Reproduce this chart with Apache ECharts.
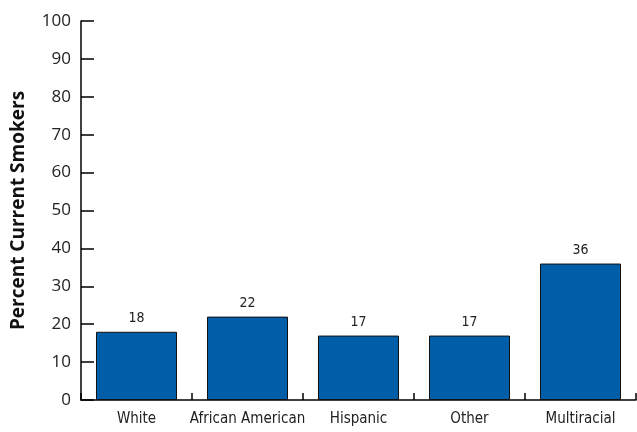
<!DOCTYPE html>
<html><head><meta charset="utf-8">
<script src="https://cdn.jsdelivr.net/npm/echarts@6/dist/echarts.min.js"></script>
<style>html,body{margin:0;padding:0;background:#fff}#c{width:637px;height:432px}</style>
</head><body><div id="c"></div>
<script>
const categories = ['White', 'African American', 'Hispanic', 'Other', 'Multiracial'];
const values = [18, 22, 17, 17, 36];
const yTicks = [0, 10, 20, 30, 40, 50, 60, 70, 80, 90, 100];
const yTitle = 'Percent Current Smokers';

const condensed = '"Liberation Sans Narrow", "DejaVu Sans Condensed", "Roboto Condensed", sans-serif';
const chart = echarts.init(document.getElementById('c'), null, {renderer: 'canvas'});
chart.setOption({
  animation: false,
  backgroundColor: '#fff',
  grid: {left: 81, right: 1, top: 21, bottom: 32, containLabel: false, outerBoundsMode: 'none'},
  xAxis: {
    type: 'category',
    data: categories,
    axisLine: {lineStyle: {color: '#000', width: 1.5}},
    axisTick: {show: true, inside: true, length: 7, alignWithLabel: false, lineStyle: {color: '#000', width: 1.5},
      interval: 0},
    axisLabel: {interval: 0, color: '#222', fontFamily: condensed, fontSize: 15, margin: 12},
    splitLine: {show: false}
  },
  yAxis: {
    type: 'value',
    min: yTicks[0], max: yTicks[yTicks.length - 1], interval: 10,
    name: yTitle,
    nameLocation: 'middle',
    nameGap: 53,
    nameRotate: 90,
    nameTextStyle: {fontFamily: 'Open Sans', fontWeight: 'bold', fontSize: 19, color: '#111'},
    axisLine: {show: true, lineStyle: {color: '#000', width: 1.5}},
    axisTick: {show: true, inside: true, length: 13, lineStyle: {color: '#000', width: 1.5}},
    axisLabel: {color: '#222', fontFamily: 'Open Sans', fontSize: 17, margin: 10},
    splitLine: {show: false}
  },
  series: [{
    type: 'bar',
    data: values,
    barCategoryGap: '27%',
    itemStyle: {color: '#005DA8', borderColor: '#111', borderWidth: 1},
    label: {show: true, position: 'top', distance: 6, color: '#222', fontFamily: condensed, fontSize: 14}
  }]
});
</script></body></html>
